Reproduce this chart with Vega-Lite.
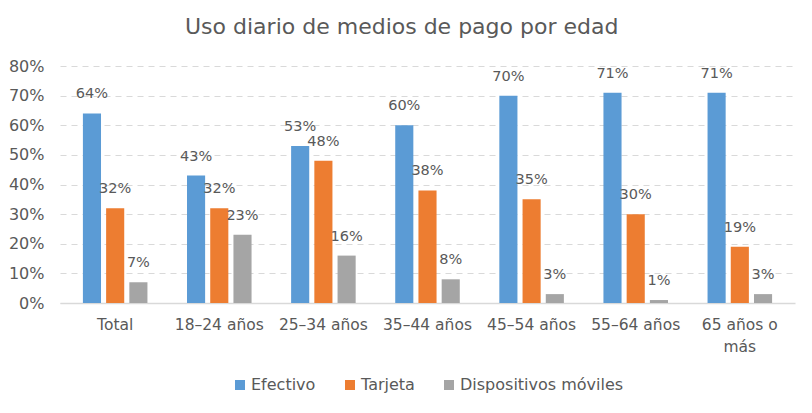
{
  "$schema": "https://vega.github.io/schema/vega-lite/v6.json",
  "width": 812,
  "height": 413,
  "autosize": {"type": "fit", "contains": "padding"},
  "padding": {"left": 8, "top": 16, "right": 17, "bottom": 20},
  "background": "white",
  "title": {"text": "Uso diario de medios de pago por edad", "fontSize": 22, "font": "DejaVu Sans", "fontWeight": "normal", "color": "#595959", "offset": 19, "frame": "bounds", "anchor": "middle"},
  "config": {"view": {"stroke": null}, "font": "DejaVu Sans", "legend": {"layout": {"bottom": {"anchor": "middle"}}}},
  "data": {"values": [
    {"edad": "Total", "medio": "Efectivo", "valor": 0.64},
    {"edad": "Total", "medio": "Tarjeta", "valor": 0.32},
    {"edad": "Total", "medio": "Dispositivos móviles", "valor": 0.07},
    {"edad": "18–24 años", "medio": "Efectivo", "valor": 0.43},
    {"edad": "18–24 años", "medio": "Tarjeta", "valor": 0.32},
    {"edad": "18–24 años", "medio": "Dispositivos móviles", "valor": 0.23},
    {"edad": "25–34 años", "medio": "Efectivo", "valor": 0.53},
    {"edad": "25–34 años", "medio": "Tarjeta", "valor": 0.48},
    {"edad": "25–34 años", "medio": "Dispositivos móviles", "valor": 0.16},
    {"edad": "35–44 años", "medio": "Efectivo", "valor": 0.60},
    {"edad": "35–44 años", "medio": "Tarjeta", "valor": 0.38},
    {"edad": "35–44 años", "medio": "Dispositivos móviles", "valor": 0.08},
    {"edad": "45–54 años", "medio": "Efectivo", "valor": 0.70},
    {"edad": "45–54 años", "medio": "Tarjeta", "valor": 0.35},
    {"edad": "45–54 años", "medio": "Dispositivos móviles", "valor": 0.03},
    {"edad": "55–64 años", "medio": "Efectivo", "valor": 0.71},
    {"edad": "55–64 años", "medio": "Tarjeta", "valor": 0.30},
    {"edad": "55–64 años", "medio": "Dispositivos móviles", "valor": 0.01},
    {"edad": "65 años o más", "medio": "Efectivo", "valor": 0.71},
    {"edad": "65 años o más", "medio": "Tarjeta", "valor": 0.19},
    {"edad": "65 años o más", "medio": "Dispositivos móviles", "valor": 0.03}
  ]},
  "encoding": {
    "x": {"field": "edad", "type": "nominal", "sort": null,
      "scale": {"paddingInner": 0.38, "paddingOuter": 0.22},
      "axis": {"title": null, "labelAngle": 0, "labelFontSize": 15.5, "labelColor": "#595959", "ticks": false, "domainColor": "#d9d9d9", "domainWidth": 1.5, "labelPadding": 14, "labelLimit": 120,
        "labelExpr": "datum.value == '65 años o más' ? ['65 años o', 'más'] : datum.value", "labelLineHeight": 22}},
    "xOffset": {"field": "medio", "type": "nominal", "sort": ["Efectivo", "Tarjeta", "Dispositivos móviles"], "scale": {"paddingInner": 0.22}},
    "y": {"field": "valor", "type": "quantitative",
      "scale": {"domain": [0, 0.8]},
      "axis": {"title": null, "format": ".0%", "values": [0, 0.1, 0.2, 0.3, 0.4, 0.5, 0.6, 0.7, 0.8], "labelOverlap": false, "labelFontSize": 16, "labelColor": "#595959", "ticks": false, "domain": false, "gridColor": "#d9d9d9", "gridDash": [6, 5], "gridWidth": 1, "labelPadding": 16}}
  },
  "layer": [
    {"mark": {"type": "bar"},
     "encoding": {
       "color": {"field": "medio", "type": "nominal", "sort": ["Efectivo", "Tarjeta", "Dispositivos móviles"],
         "scale": {"domain": ["Efectivo", "Tarjeta", "Dispositivos móviles"], "range": ["#5B9BD5", "#ED7D31", "#A5A5A5"]},
         "legend": {"title": null, "orient": "bottom", "direction": "horizontal", "symbolType": "square", "symbolSize": 100, "labelFontSize": 16, "labelLimit": 300, "labelColor": "#595959", "columnPadding": 26, "symbolStrokeWidth": 0, "offset": 22, "labelOffset": 3}}
     }},
    {"mark": {"type": "text", "dy": -19, "fontSize": 14.5, "color": "#595959"},
     "encoding": {"text": {"field": "valor", "type": "quantitative", "format": ".0%"}}}
  ]
}
